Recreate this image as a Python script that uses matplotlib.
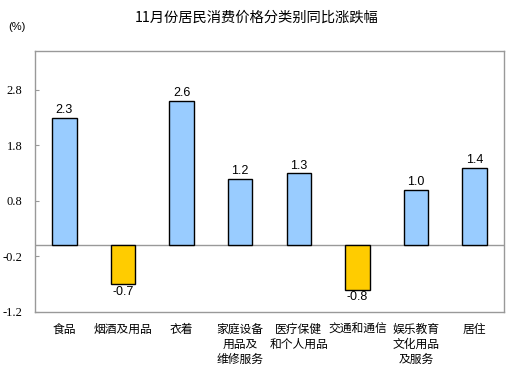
import matplotlib
matplotlib.use("Agg")
import matplotlib.pyplot as plt

categories = ["食品", "烟酒及用品", "衣着", "家庭设备\n用品及\n维修服务", "医疗保健\n和个人用品",
              "交通和通信", "娱乐教育\n文化用品\n及服务", "居住"]
values = [2.3, -0.7, 2.6, 1.2, 1.3, -0.8, 1.0, 1.4]
yticks = [2.8, 1.8, 0.8, -0.2, -1.2]
title = "11月份居民消费价格分类别同比涨跌幅"

plt.rcParams['font.family'] = ['Noto Sans CJK SC', 'DejaVu Sans']

fig = plt.figure(figsize=(5.32, 3.83), dpi=100)
ax = fig.add_axes([35/532, 1-312/383, (504-35)/532, (312-51)/383])

x = list(range(len(values)))
colors = ["#99CCFF" if v >= 0 else "#FFCC00" for v in values]
ax.bar(x, values, width=0.42, color=colors, edgecolor="black", linewidth=1.0, zorder=3)

for xi, v in zip(x, values):
    if v >= 0:
        ax.text(xi, v + 0.03, f"{v:.1f}", ha="center", va="bottom", fontsize=9,
                family=["Liberation Sans"], zorder=4)
    else:
        ax.text(xi, v - 0.03, f"{v:.1f}", ha="center", va="top", fontsize=9,
                family=["Liberation Sans"], zorder=4)

ax.axhline(0, color="#999999", linewidth=1.0, zorder=2)
ax.set_xlim(-0.5, len(values) - 0.5)
ax.set_ylim(-1.2, 3.5)
ax.set_yticks(yticks)
ax.set_yticklabels([f"{t:.1f}" for t in yticks], family=["Liberation Serif"], fontsize=9)
ax.tick_params(axis="y", direction="in", length=3, color="#999999", pad=9)
ax.set_xticks(x)
ax.set_xticklabels(categories, fontsize=8.5, linespacing=1.2)
ax.tick_params(axis="x", length=0, pad=8)
for s in ax.spines.values():
    s.set_color("#999999")
    s.set_linewidth(1.0)

fig.text(257/532, 1-18/383, title, ha="center", va="center", fontsize=10.3)
fig.text(8/532, 1-27/383, "(%)", ha="left", va="center", fontsize=8, family=["Liberation Sans"])

fig.savefig("out.png", dpi=100)
